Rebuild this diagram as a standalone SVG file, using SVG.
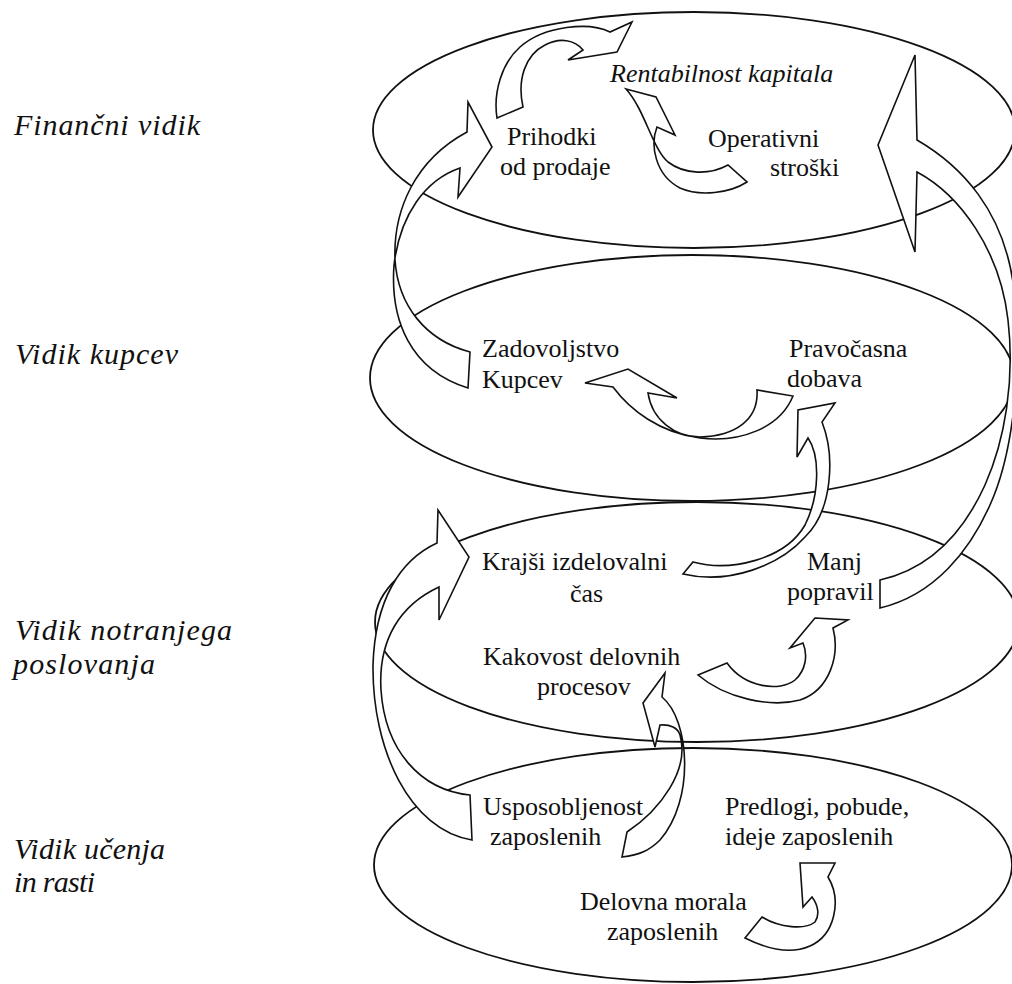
<svg xmlns="http://www.w3.org/2000/svg" width="1012" height="984" viewBox="0 0 1012 984">
<style>
.layer{fill:none;stroke:#111;stroke-width:1.8}
.arr{fill:#fff;stroke:#111;stroke-width:1.6;stroke-linejoin:miter}
.t{font-family:"Liberation Serif","Times New Roman",serif;font-size:26px;fill:#111}
.ti{font-family:"Liberation Serif","Times New Roman",serif;font-size:26px;font-style:italic;fill:#111}
.lab{font-family:"Liberation Serif","Times New Roman",serif;font-size:30px;font-style:italic;fill:#111}
</style>
<rect width="1012" height="984" fill="#fff"/>
<g id="layers">
<ellipse id="layer-financni" class="layer" cx="694" cy="130" rx="321" ry="118"/>
<ellipse id="layer-kupci" class="layer" cx="692" cy="378" rx="322" ry="123"/>
<ellipse id="layer-notranji" class="layer" cx="697" cy="622" rx="322" ry="120"/>
<ellipse id="layer-ucenje" class="layer" cx="693" cy="865" rx="319" ry="117"/>
</g>
<g id="perspective-labels">
<text id="lab-fin" class="lab" x="14" y="135" textLength="186">Finančni vidik</text>
<text id="lab-kup" class="lab" x="15" y="364" textLength="163">Vidik kupcev</text>
<text id="lab-not" class="lab" x="15" y="640" textLength="217">Vidik notranjega</text>
<text id="lab-not2" class="lab" x="13" y="674" textLength="142">poslovanja</text>
<text id="lab-uc" class="lab" x="14" y="859" textLength="151">Vidik učenja</text>
<text id="lab-uc2" class="lab" x="14" y="892" textLength="81">in rasti</text>
</g>
<g id="connectors">
<path id="arrow-prihodki-rentabilnost" class="arr" d="M497,118 L523,107 C517,80 525,55 545,45 C560,37 575,40 583,50 L568,60 L617,52 L632,22 L610,32 C590,22 545,25 520,47 C502,63 493,92 497,118 Z"/>
<path id="arrow-stroski-rentabilnost" class="arr" d="M626,89 L656,97 L675,135 L657,127 C650,145 655,175 680,188 C700,197 730,193 747,182 L728,165 C710,175 685,175 668,162 C652,148 645,110 626,89 Z"/>
<path id="arrow-popravil-financni" class="arr" d="M915,55 L917,140 C960,165 1005,210 1014,290 C1022,360 1015,450 990,505 C970,550 935,595 880,608 L880,580 C925,570 960,540 985,485 C1005,440 1015,380 1008,320 C1000,250 960,195 917,172 L915,252 L878,145 Z"/>
<path id="arrow-zadovoljstvo-prihodki" class="arr" d="M470,352 C425,340 398,305 395,260 C393,210 415,160 467,132 L468,102 L492,147 L458,197 L460,168 C425,180 400,215 394,265 C390,320 410,370 468,388 Z"/>
<path id="arrow-dobava-zadovoljstvo" class="arr" d="M757,390 C759,420 735,436 700,437 C675,437 652,420 648,393 L677,398 L628,369 L585,383 L613,387 C630,410 660,433 700,438 C740,443 780,428 793,396 Z"/>
<path id="arrow-cas-dobava" class="arr" d="M683,574 L693,562 C730,572 785,560 805,525 C820,495 820,455 808,438 L797,457 L798,410 L835,403 L822,422 C835,455 833,510 805,537 C780,565 730,585 683,574 Z"/>
<path id="arrow-usposobljenost-cas" class="arr" d="M470,795 C420,790 385,750 381,690 C378,640 400,605 439,587 L439,620 L469,557 L438,510 L437,543 C400,560 375,600 373,665 C372,750 410,830 472,840 Z"/>
<path id="arrow-kakovost-popravil" class="arr" d="M815,618 L848,620 L833,628 C840,655 830,690 800,700 C770,708 725,698 698,675 L727,663 C745,688 780,692 795,680 C806,670 808,655 803,643 L790,648 Z"/>
<path id="arrow-usposobljenost-kakovost" class="arr" d="M665,673 L662,697 C690,720 695,800 660,840 C650,850 640,855 622,857 L627,832 C660,810 690,770 680,735 C678,728 670,724 660,725 L655,747 L643,703 Z"/>
<path id="arrow-morala-predlogi" class="arr" d="M800,863 L835,863 L828,877 C842,900 835,935 810,946 C790,955 765,948 745,938 L762,917 C780,928 805,930 815,922 C820,915 818,905 812,897 L803,907 Z"/>
</g>
<g id="node-rentabilnost"><text class="ti" x="610" y="82">Rentabilnost kapitala</text></g>
<g id="node-prihodki"><text class="t" x="507" y="145">Prihodki</text><text class="t" x="500" y="175">od prodaje</text></g>
<g id="node-stroski"><text class="t" x="708" y="147">Operativni</text><text class="t" x="770" y="176">stroški</text></g>
<g id="node-zadovoljstvo"><text class="t" x="482" y="357">Zadovoljstvo</text><text class="t" x="482" y="388">Kupcev</text></g>
<g id="node-dobava"><text class="t" x="789" y="357">Pravočasna</text><text class="t" x="787" y="387">dobava</text></g>
<g id="node-cas"><text class="t" x="482" y="570">Krajši izdelovalni</text><text class="t" x="570" y="602">čas</text></g>
<g id="node-popravil"><text class="t" x="807" y="570">Manj</text><text class="t" x="787" y="600">popravil</text></g>
<g id="node-kakovost"><text class="t" x="483" y="665">Kakovost delovnih</text><text class="t" x="537" y="695">procesov</text></g>
<g id="node-usposobljenost"><text class="t" x="483" y="815">Usposobljenost</text><text class="t" x="490" y="845">zaposlenih</text></g>
<g id="node-predlogi"><text class="t" x="725" y="815">Predlogi, pobude,</text><text class="t" x="725" y="845">ideje zaposlenih</text></g>
<g id="node-morala"><text class="t" x="580" y="910">Delovna morala</text><text class="t" x="607" y="940">zaposlenih</text></g>
</svg>
